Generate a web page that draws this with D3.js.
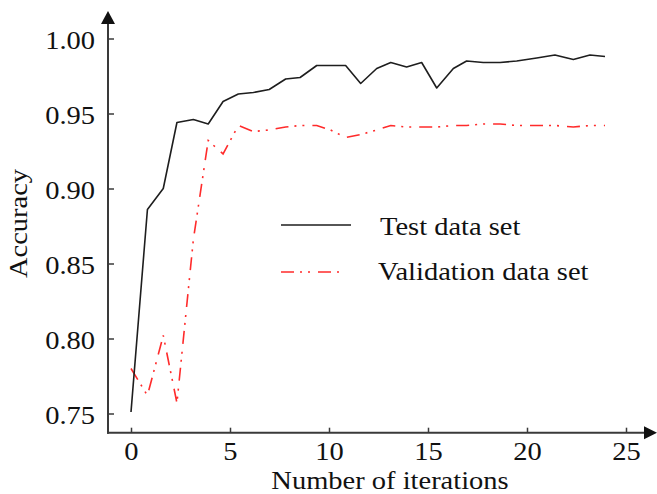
<!DOCTYPE html>
<html>
<head>
<meta charset="utf-8">
<script src="https://cdn.jsdelivr.net/npm/d3@7"></script>
<style>
  body { margin: 0; background: #fff; }
  text { font-family: "Liberation Serif", "Times New Roman", serif; fill: #111; }
</style>
</head>
<body>
<svg id="chart" width="657" height="494"></svg>
<script>
// iteration positions
const iterations = [0, 0.83, 1.63, 2.32, 3.15, 3.9, 4.65, 5.42, 6.18, 6.98, 7.81, 8.54, 9.38, 10.08, 10.84, 11.6,
    12.41, 13.12, 13.92, 14.68, 15.44, 16.28, 16.95, 17.79, 18.64, 19.48, 20.49, 21.41, 22.34, 23.18, 23.94];
const testAcc = [0.751, 0.886, 0.900, 0.944, 0.946, 0.943, 0.958, 0.963, 0.964, 0.966, 0.973, 0.974, 0.982, 0.982, 0.982, 0.970,
    0.980, 0.984, 0.981, 0.984, 0.967, 0.980, 0.985, 0.984, 0.984, 0.985, 0.987, 0.989, 0.986, 0.989, 0.988];
const validAcc = [0.780, 0.762, 0.802, 0.757, 0.866, 0.932, 0.923, 0.942, 0.938, 0.939, 0.941, 0.942, 0.942, 0.939, 0.934, 0.936,
    0.939, 0.942, 0.941, 0.941, 0.941, 0.942, 0.942, 0.943, 0.943, 0.942, 0.942, 0.942, 0.941, 0.942, 0.942];
const xTicks = [0, 5, 10, 15, 20, 25];
const yTicks = [0.75, 0.80, 0.85, 0.90, 0.95, 1.00];
const seriesNames = ["Test data set", "Validation data set"];

const svg = d3.select("#chart");
const stretch = 1.14; // the source text is drawn a bit wide

const x = d3.scaleLinear().domain([0, 25]).range([131, 626]);
const y = d3.scaleLinear().domain([0.75, 1.0]).range([413.5, 38.5]);

const originX = 108, originY = 432.7;
const axisColor = "#3a3a3a";

// axis lines with arrow heads
svg.append("line")
    .attr("x1", originX).attr("y1", originY + 1)
    .attr("x2", originX).attr("y2", 20)
    .attr("stroke", axisColor).attr("stroke-width", 2);
svg.append("path")
    .attr("d", `M${originX},11 L${originX - 7},24 L${originX + 7},24 Z`)
    .attr("fill", "#111");
svg.append("line")
    .attr("x1", originX - 1).attr("y1", originY)
    .attr("x2", 648).attr("y2", originY)
    .attr("stroke", axisColor).attr("stroke-width", 2);
svg.append("path")
    .attr("d", `M657,${originY} L644,${originY - 6.5} L644,${originY + 6.5} Z`)
    .attr("fill", "#111");

// x ticks
const gx = svg.append("g")
    .attr("transform", `translate(0,${originY})`)
    .call(d3.axisBottom(x).tickValues(xTicks).tickSize(-5).tickPadding(9.5).tickFormat(d3.format("d")));
gx.select(".domain").remove();
gx.selectAll(".tick line").attr("stroke", axisColor).attr("stroke-width", 1.5);
gx.selectAll(".tick text")
    .attr("font-size", 25)
    .attr("font-family", "Liberation Serif")
    .attr("fill", "#111")
    .attr("transform", `scale(${stretch},1)`);

// y ticks
const gy = svg.append("g")
    .attr("transform", `translate(${originX},0)`)
    .call(d3.axisLeft(y).tickValues(yTicks).tickSize(-6).tickPadding(11.4).tickFormat(d3.format(".2f")));
gy.select(".domain").remove();
gy.selectAll(".tick line").attr("stroke", axisColor).attr("stroke-width", 1.5);
gy.selectAll(".tick text")
    .attr("font-size", 25)
    .attr("font-family", "Liberation Serif")
    .attr("fill", "#111")
    .attr("dy", "0.4em")
    .attr("transform", `scale(${stretch},1)`);

// axis titles
svg.append("text")
    .attr("transform", `translate(390,489) scale(${stretch},1)`)
    .attr("text-anchor", "middle")
    .attr("font-size", 25)
    .text("Number of iterations");

svg.append("text")
    .attr("transform", `translate(27,223.5) rotate(-90) scale(${stretch},1)`)
    .attr("text-anchor", "middle")
    .attr("font-size", 25)
    .text("Accuracy");

// lines
const line = d3.line()
    .x((d, i) => x(iterations[i]))
    .y(d => y(d));

const redDash = "13,6,2,6,2,8";

svg.append("path")
    .datum(validAcc)
    .attr("d", line)
    .attr("fill", "none")
    .attr("stroke", "#ff2b2b")
    .attr("stroke-width", 1.6)
    .attr("stroke-dasharray", redDash);

svg.append("path")
    .datum(testAcc)
    .attr("d", line)
    .attr("fill", "none")
    .attr("stroke", "#1e1e1e")
    .attr("stroke-width", 1.6)
    .attr("stroke-linejoin", "round");

// legend
const legend = [
    { name: seriesNames[0], color: "#1e1e1e", dash: null, ly: 225, ty: 235, tx: 380, x2: 351 },
    { name: seriesNames[1], color: "#ff2b2b", dash: redDash, ly: 272, ty: 279.5, tx: 378, x2: 345 }
];
legend.forEach(d => {
    svg.append("line")
        .attr("x1", 281).attr("y1", d.ly)
        .attr("x2", d.x2).attr("y2", d.ly)
        .attr("stroke", d.color)
        .attr("stroke-width", 1.6)
        .attr("stroke-dasharray", d.dash);
    svg.append("text")
        .attr("transform", `translate(${d.tx},${d.ty}) scale(${stretch},1)`)
        .attr("font-size", 25)
        .text(d.name);
});
</script>
</body>
</html>
